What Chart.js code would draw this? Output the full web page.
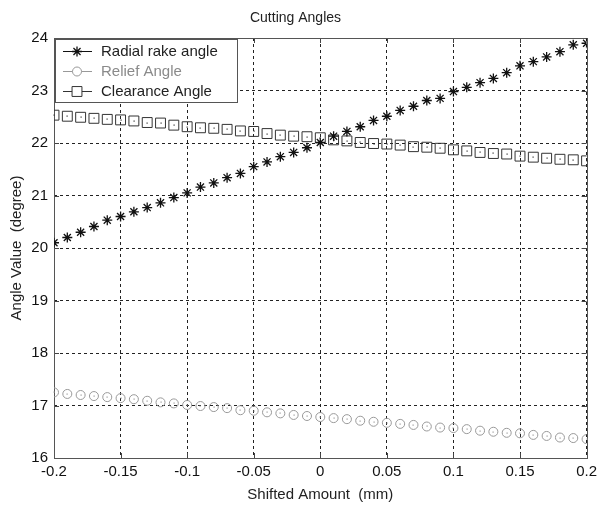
<!DOCTYPE html>
<html>
<head>
<meta charset="utf-8">
<script src="https://cdn.jsdelivr.net/npm/chart.js@4/dist/chart.umd.min.js"></script>
<style>
html,body{margin:0;padding:0;background:#fff;}
#wrap{width:602px;height:505px;position:relative;}
</style>
</head>
<body>
<div id="wrap"><canvas id="c" width="602" height="505"></canvas></div>
<script>
const shifted = [-0.20,-0.19,-0.18,-0.17,-0.16,-0.15,-0.14,-0.13,-0.12,-0.11,
  -0.10,-0.09,-0.08,-0.07,-0.06,-0.05,-0.04,-0.03,-0.02,-0.01,
  0.00,0.01,0.02,0.03,0.04,0.05,0.06,0.07,0.08,0.09,
  0.10,0.11,0.12,0.13,0.14,0.15,0.16,0.17,0.18,0.19,0.20];
const radialRake = [20.10,20.20,20.30,20.41,20.53,20.60,20.69,20.77,20.86,20.96,
  21.05,21.16,21.24,21.34,21.42,21.55,21.64,21.74,21.82,21.91,
  22.01,22.13,22.22,22.31,22.43,22.51,22.62,22.70,22.81,22.85,
  22.98,23.06,23.15,23.23,23.34,23.47,23.55,23.64,23.74,23.87,23.90];
const reliefAngle = [17.25,17.22,17.20,17.18,17.16,17.14,17.12,17.09,17.06,17.04,
  17.01,16.99,16.97,16.95,16.91,16.90,16.87,16.85,16.82,16.80,
  16.78,16.76,16.74,16.71,16.69,16.67,16.65,16.63,16.60,16.58,
  16.57,16.55,16.52,16.50,16.48,16.47,16.44,16.42,16.39,16.38,16.36];
const clearanceAngle = [22.53,22.51,22.49,22.47,22.45,22.44,22.42,22.39,22.38,22.34,
  22.31,22.29,22.28,22.26,22.23,22.22,22.18,22.15,22.13,22.12,
  22.10,22.06,22.04,22.01,21.99,21.98,21.96,21.93,21.92,21.90,
  21.87,21.85,21.82,21.80,21.79,21.75,21.73,21.71,21.69,21.68,21.66];
const seriesNames = ['Radial rake angle','Relief Angle','Clearance Angle'];
const xTickValues = [-0.2,-0.15,-0.1,-0.05,0,0.05,0.1,0.15,0.2];
const xTickLabels = ['-0.2','-0.15','-0.1','-0.05','0','0.05','0.1','0.15','0.2'];
const yTickValues = [16,17,18,19,20,21,22,23,24];
const yTickLabels = ['16','17','18','19','20','21','22','23','24'];

const FONT = '"Liberation Sans", Arial, sans-serif';
const toPts = ys => shifted.map((x,i)=>({x:x,y:ys[i]}));

const styles = [
  {color:'#111', pointStyle:'star', radius:5, width:1.3, dot:false},
  {color:'#999', pointStyle:'circle', radius:4.5, width:1, dot:true},
  {color:'#333', pointStyle:'rect', radius:7, width:1, dot:true}
];

const framePlugin = {
  id:'frame',
  beforeDatasetsDraw(chart){
    const {ctx, chartArea:a, scales} = chart;
    ctx.save();
    ctx.strokeStyle = '#444';
    ctx.lineWidth = 1;
    ctx.beginPath();
    xTickValues.forEach(v=>{
      const px = Math.round(scales.x.getPixelForValue(v))+0.5;
      ctx.moveTo(px,a.bottom); ctx.lineTo(px,a.bottom-5);
      ctx.moveTo(px,a.top); ctx.lineTo(px,a.top+5);
    });
    yTickValues.forEach(v=>{
      const py = Math.round(scales.y.getPixelForValue(v))+0.5;
      ctx.moveTo(a.left,py); ctx.lineTo(a.left+5,py);
      ctx.moveTo(a.right,py); ctx.lineTo(a.right-5,py);
    });
    ctx.stroke();
    ctx.strokeStyle = '#555';
    ctx.strokeRect(Math.round(a.left)+0.5, Math.round(a.top)+0.5, Math.round(a.right-a.left), Math.round(a.bottom-a.top));
    ctx.restore();
  },
  afterDatasetsDraw(chart){
    const {ctx} = chart;
    ctx.save();
    chart.data.datasets.forEach((ds,di)=>{
      if(!styles[di].dot) return;
      const meta = chart.getDatasetMeta(di);
      ctx.fillStyle = styles[di].color;
      meta.data.forEach(el=>{
        ctx.fillRect(Math.round(el.x)-0.5, Math.round(el.y)-0.5, 1.2, 1.2);
      });
    });
    const a = chart.chartArea;
    const bx = a.left+1, by = a.top+1, bw = 182, bh = 63;
    ctx.fillStyle = '#fff';
    ctx.fillRect(bx,by,bw,bh);
    ctx.strokeStyle = '#555';
    ctx.lineWidth = 1;
    ctx.strokeRect(Math.round(bx)+0.5, Math.round(by)+0.5, bw, bh);
    ctx.font = '15px ' + FONT;
    ctx.textBaseline = 'middle';
    ctx.textAlign = 'left';
    seriesNames.forEach((name,i)=>{
      const y = Math.round(by + 12 + i*20) + 0.5;
      const st = styles[i];
      ctx.strokeStyle = st.color;
      ctx.lineWidth = 1;
      ctx.beginPath(); ctx.moveTo(bx+8,y); ctx.lineTo(bx+37,y); ctx.stroke();
      ctx.fillStyle = '#fff';
      ctx.lineWidth = st.width;
      Chart.helpers.drawPoint(ctx,{pointStyle:st.pointStyle, radius:st.radius, borderWidth:st.width}, bx+22, y);
      ctx.fillStyle = i===1 ? '#8a8a8a' : '#222';
      ctx.fillText(name, bx+46, y);
    });
    ctx.restore();
  }
};

new Chart(document.getElementById('c'), {
  type:'scatter',
  data:{
    datasets:[radialRake, reliefAngle, clearanceAngle].map((ys,i)=>({
      label:seriesNames[i],
      data:toPts(ys),
      showLine:false,
      pointStyle:styles[i].pointStyle,
      pointRadius:styles[i].radius,
      pointBorderColor:styles[i].color,
      pointBackgroundColor:'rgba(0,0,0,0)',
      pointBorderWidth:styles[i].width,
      borderColor:styles[i].color
    }))
  },
  options:{
    responsive:false,
    animation:false,
    events:[],
    layout:{padding:{left:0,right:11,top:0,bottom:0}},
    plugins:{
      legend:{display:false},
      tooltip:{enabled:false},
      title:{display:true, text:'Cutting Angles', color:'#222',
        font:{family:FONT, size:14, weight:'normal'}, padding:{top:10,bottom:11.2}}
    },
    scales:{
      x:{
        type:'linear', min:-0.2, max:0.2,
        afterBuildTicks(s){ s.ticks = xTickValues.map(v=>({value:v})); },
        afterFit(s){ s.height = 47; },
        ticks:{ color:'#111', padding:5, maxRotation:0, autoSkip:false,
          font:{family:FONT,size:15},
          callback:(v,i)=>xTickLabels[i] },
        grid:{ color:'#222', drawTicks:false, tickLength:0, lineWidth:1 },
        border:{ display:false, dash:[3,3] },
        title:{ display:true, text:'Shifted Amount  (mm)', color:'#222',
          font:{family:FONT,size:15}, padding:{top:0,bottom:1} }
      },
      y:{
        type:'linear', min:16, max:24,
        afterBuildTicks(s){ s.ticks = yTickValues.map(v=>({value:v})); },
        afterFit(s){ s.width = 54; },
        ticks:{ color:'#111', padding:6, autoSkip:false,
          font:{family:FONT,size:15},
          callback:(v,i)=>yTickLabels[i] },
        grid:{ color:'#222', drawTicks:false, tickLength:0, lineWidth:1 },
        border:{ display:false, dash:[3,3] },
        title:{ display:true, text:'Angle Value  (degree)', color:'#222',
          font:{family:FONT,size:15}, padding:{top:8,bottom:0} }
      }
    }
  },
  plugins:[framePlugin]
});
</script>
</body>
</html>
